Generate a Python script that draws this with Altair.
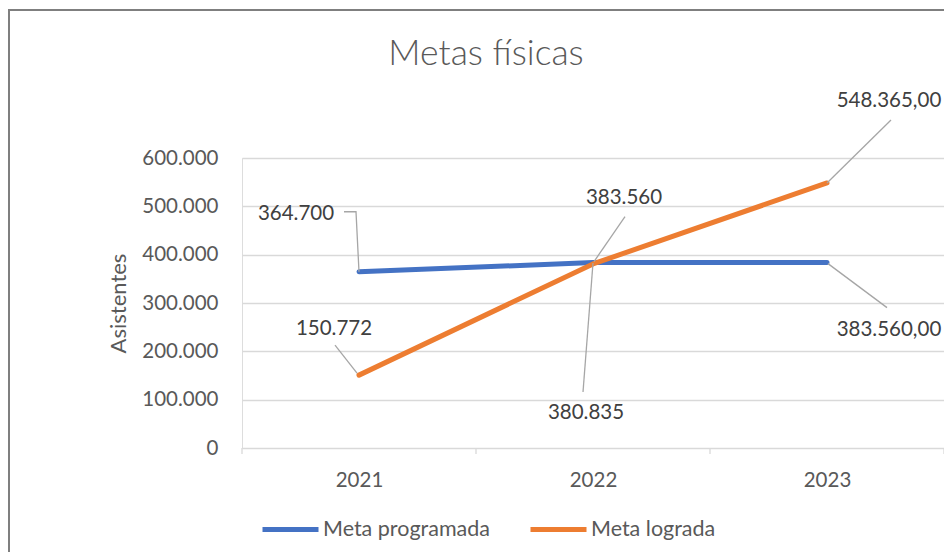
import altair as alt
import pandas as pd

# ---- data ----
years = [2021, 2022, 2023]
series = ["Meta programada", "Meta lograda"]
meta_programada = [364700, 383560, 383560]
meta_lograda = [150772, 380835, 548365]
labels_programada = ["364.700", "383.560", "383.560,00"]
labels_lograda = ["150.772", "380.835", "548.365,00"]
y_ticks = [0, 100000, 200000, 300000, 400000, 500000, 600000]
colors = ["#4472C4", "#ED7D31"]

# ---- layout / style ----
W, H = 702, 290
PAD_L, PAD_T, PAD_R, PAD_B = 234, 150, 0, 104
Y_MAX = 600000
FONT = "Lato"
TXT = "#595959"
LBL = "#404040"
GRID = "#D9D9D9"
LEADER = "#A6A6A6"
FS = 20.5

# annotation placement (pixel offsets from each data point)
label_offsets = {
    ("Meta programada", 0): (-63, -58),
    ("Meta programada", 1): (31, -65),
    ("Meta programada", 2): (62, 67),
    ("Meta lograda", 0): (-25, -46),
    ("Meta lograda", 1): (-7, 149),
    ("Meta lograda", 2): (62, -82),
}
leader_paths = {
    ("Meta programada", 0): [(0, 0), (-3, -60), (-15, -60)],
    ("Meta programada", 1): [(1, -1), (32, -46)],
    ("Meta programada", 2): [(1, 1), (60, 45)],
    ("Meta lograda", 0): [(-2, -2), (-24, -30)],
    ("Meta lograda", 1): [(0, -1), (-10, 128)],
    ("Meta lograda", 2): [(0, 0), (64, -63)],
}

px_x = 3 / W          # years per pixel
px_y = Y_MAX / H      # value per pixel

rows = []
for s, vals in zip(series, [meta_programada, meta_lograda]):
    for yr, v in zip(years, vals):
        rows.append({"year": yr, "value": v, "serie": s})
df = pd.DataFrame(rows)

lab_rows, lead_rows = [], []
for s, vals, texts in zip(series, [meta_programada, meta_lograda],
                          [labels_programada, labels_lograda]):
    for i, (yr, v, t) in enumerate(zip(years, vals, texts)):
        dx, dy = label_offsets[(s, i)]
        lab_rows.append({"x": yr + dx * px_x, "y": v - dy * px_y, "text": t})
        for k, (ldx, ldy) in enumerate(leader_paths[(s, i)]):
            lead_rows.append({"x": yr + ldx * px_x, "y": v - ldy * px_y,
                              "id": f"{s}-{i}", "k": k})
df_lab = pd.DataFrame(lab_rows)
df_lead = pd.DataFrame(lead_rows)
df_ticks = pd.DataFrame({"b": [years[0] - 0.5] + [y + 0.5 for y in years]})

xscale = alt.Scale(domain=[years[0] - 0.5, years[-1] + 0.5], nice=False, zero=False)
yscale = alt.Scale(domain=[0, Y_MAX], nice=False)

base = alt.Chart(df)

lines = base.mark_line(strokeWidth=5, strokeCap="round", strokeJoin="round").encode(
    x=alt.X("year:Q", scale=xscale,
            axis=alt.Axis(values=years, format="d", title=None, grid=False,
                          ticks=False, domain=False, labelPadding=22,
                          labelFontSize=FS, labelColor=TXT, labelFont=FONT)),
    y=alt.Y("value:Q", scale=yscale,
            axis=alt.Axis(values=y_ticks, title="Asistentes",
                          labelExpr="replace(format(datum.value, ','), ',', '.')",
                          grid=True, gridColor=GRID, gridWidth=1.3,
                          ticks=False, domain=False, labelPadding=24,
                          labelFontSize=FS, labelColor=TXT, labelFont=FONT,
                          titleFont=FONT, titleFontSize=22, titleColor=TXT,
                          titleFontWeight="normal", titleX=-124, titleY=145,
                          titleAlign="center", titleBaseline="middle")),
    color=alt.Color("serie:N", scale=alt.Scale(domain=series, range=colors),
                    legend=alt.Legend(title=None, orient="none", legendX=18, legendY=341,
                                      direction="horizontal", symbolType="stroke",
                                      symbolSize=3136, symbolStrokeWidth=5,
                                      labelFontSize=21.5, labelColor=TXT, labelFont=FONT,
                                      labelLimit=400, labelOffset=2, columnPadding=30,
                                      padding=0)),
    order=alt.Order("year:Q"),
)

ticks = alt.Chart(df_ticks).mark_rule(color=GRID, strokeWidth=1.3).encode(
    x=alt.X("b:Q", scale=xscale),
    y=alt.value(H), y2=alt.value(H + 6),
)

leaders = alt.Chart(df_lead).mark_line(color=LEADER, strokeWidth=1.3).encode(
    x=alt.X("x:Q", scale=xscale),
    y=alt.Y("y:Q", scale=yscale),
    detail="id:N",
    order="k:Q",
)

data_labels = alt.Chart(df_lab).mark_text(
    font=FONT, fontSize=FS, color=LBL, align="center", baseline="middle"
).encode(
    x=alt.X("x:Q", scale=xscale),
    y=alt.Y("y:Q", scale=yscale),
    text="text:N",
)

title = alt.Chart(pd.DataFrame({"t": ["Metas físicas"]})).mark_text(
    font=FONT, fontSize=35.5, fontWeight=300, color=TXT, align="center",
    baseline="alphabetic"
).encode(x=alt.value(486 - 8 - PAD_L), y=alt.value(-93), text="t:N")

border_top = alt.Chart(pd.DataFrame({"a": [0]})).mark_rule(color="#7F7F7F", strokeWidth=2).encode(
    x=alt.value(-PAD_L), x2=alt.value(W + PAD_R), y=alt.value(-PAD_T + 2))
border_left = alt.Chart(pd.DataFrame({"a": [0]})).mark_rule(color="#7F7F7F", strokeWidth=2).encode(
    x=alt.value(-PAD_L + 1), y=alt.value(-PAD_T + 2), y2=alt.value(H + PAD_B))

chart = alt.layer(
    border_top, border_left, ticks, lines, leaders, data_labels, title
).properties(
    width=W, height=H,
    autosize=alt.AutoSizeParams(type="none"),
    padding={"left": PAD_L, "top": PAD_T, "right": PAD_R, "bottom": PAD_B},
).configure_view(stroke=None).configure(font=FONT)

chart.save("out.html", embed_options={"renderer": "svg", "actions": False})
